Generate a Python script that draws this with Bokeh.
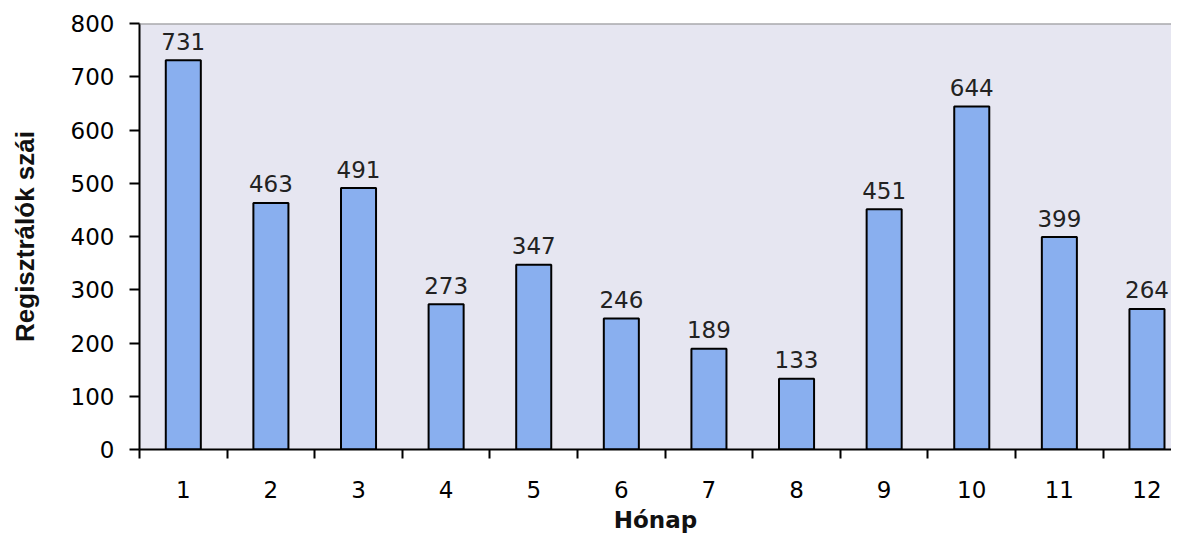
from bokeh.plotting import figure
from bokeh.models import ColumnDataSource, FixedTicker, Span
from bokeh.core.properties import value
from bokeh.embed import file_html
from bokeh.resources import INLINE

months = [1, 2, 3, 4, 5, 6, 7, 8, 9, 10, 11, 12]
counts = [731, 463, 491, 273, 347, 246, 189, 133, 451, 644, 399, 264]
month_labels = [str(m) for m in months]
y_ticks = [0, 100, 200, 300, 400, 500, 600, 700, 800]

src = ColumnDataSource(dict(x=months, top=counts, lbl=[str(c) for c in counts]))

p = figure(width=1171, height=535, output_backend="svg", toolbar_location=None,
           x_range=(0.5, 12.28), y_range=(0, 800),
           min_border_left=139, min_border_right=0, min_border_top=23, min_border_bottom=83)

p.background_fill_color = "#E6E6F1"
p.border_fill_color = "white"
p.outline_line_color = None
p.grid.visible = False

p.vbar(x="x", top="top", width=0.4, bottom=0, source=src,
       fill_color="#89AFEF", line_color="black", line_width=2)

p.text(x="x", y="top", text="lbl", source=src, text_align="center",
       text_baseline="alphabetic", y_offset=-19,
       text_font=value("DejaVu Sans"), text_font_size="23px", text_color="#222222")

p.add_layout(Span(location=800, dimension="width", line_color="#8a8a8a", line_width=2))

# y axis
ya = p.yaxis[0]
ya.ticker = FixedTicker(ticks=y_ticks, minor_ticks=[])
ya.axis_line_width = 2
ya.axis_line_color = "black"
ya.major_tick_line_width = 2
ya.major_tick_line_color = "black"
ya.major_tick_out = 10
ya.major_tick_in = 0
ya.minor_tick_line_color = None
ya.major_label_standoff = 15
ya.major_label_text_font = "DejaVu Sans"
ya.major_label_text_font_size = "23px"
ya.major_label_text_color = "black"
ya.axis_label = "Regisztrálók szái"
ya.axis_label_text_font = "Liberation Sans"
ya.axis_label_text_font_style = "bold"
ya.axis_label_text_font_size = "26px"
ya.axis_label_text_color = "#111111"
ya.axis_label_standoff = 28

# x axis
xa = p.xaxis[0]
xa.ticker = FixedTicker(ticks=months, minor_ticks=[m + 0.5 for m in [0] + months])
xa.major_label_overrides = {m: l for m, l in zip(months, month_labels)}
xa.axis_line_width = 2
xa.axis_line_color = "black"
xa.major_tick_line_color = None
xa.major_tick_out = 0
xa.major_tick_in = 0
xa.minor_tick_line_color = "black"
xa.minor_tick_line_width = 2
xa.minor_tick_out = 9
xa.minor_tick_in = 0
xa.major_label_standoff = 22
xa.major_label_text_font = "DejaVu Sans"
xa.major_label_text_font_size = "23px"
xa.major_label_text_color = "black"
xa.axis_label = "Hónap"
xa.axis_label_text_font = "DejaVu Sans"
xa.axis_label_text_font_style = "bold"
xa.axis_label_text_font_size = "23px"
xa.axis_label_text_color = "#111111"
xa.axis_label_standoff = 6

open("out.html", "w").write(file_html(p, INLINE))
